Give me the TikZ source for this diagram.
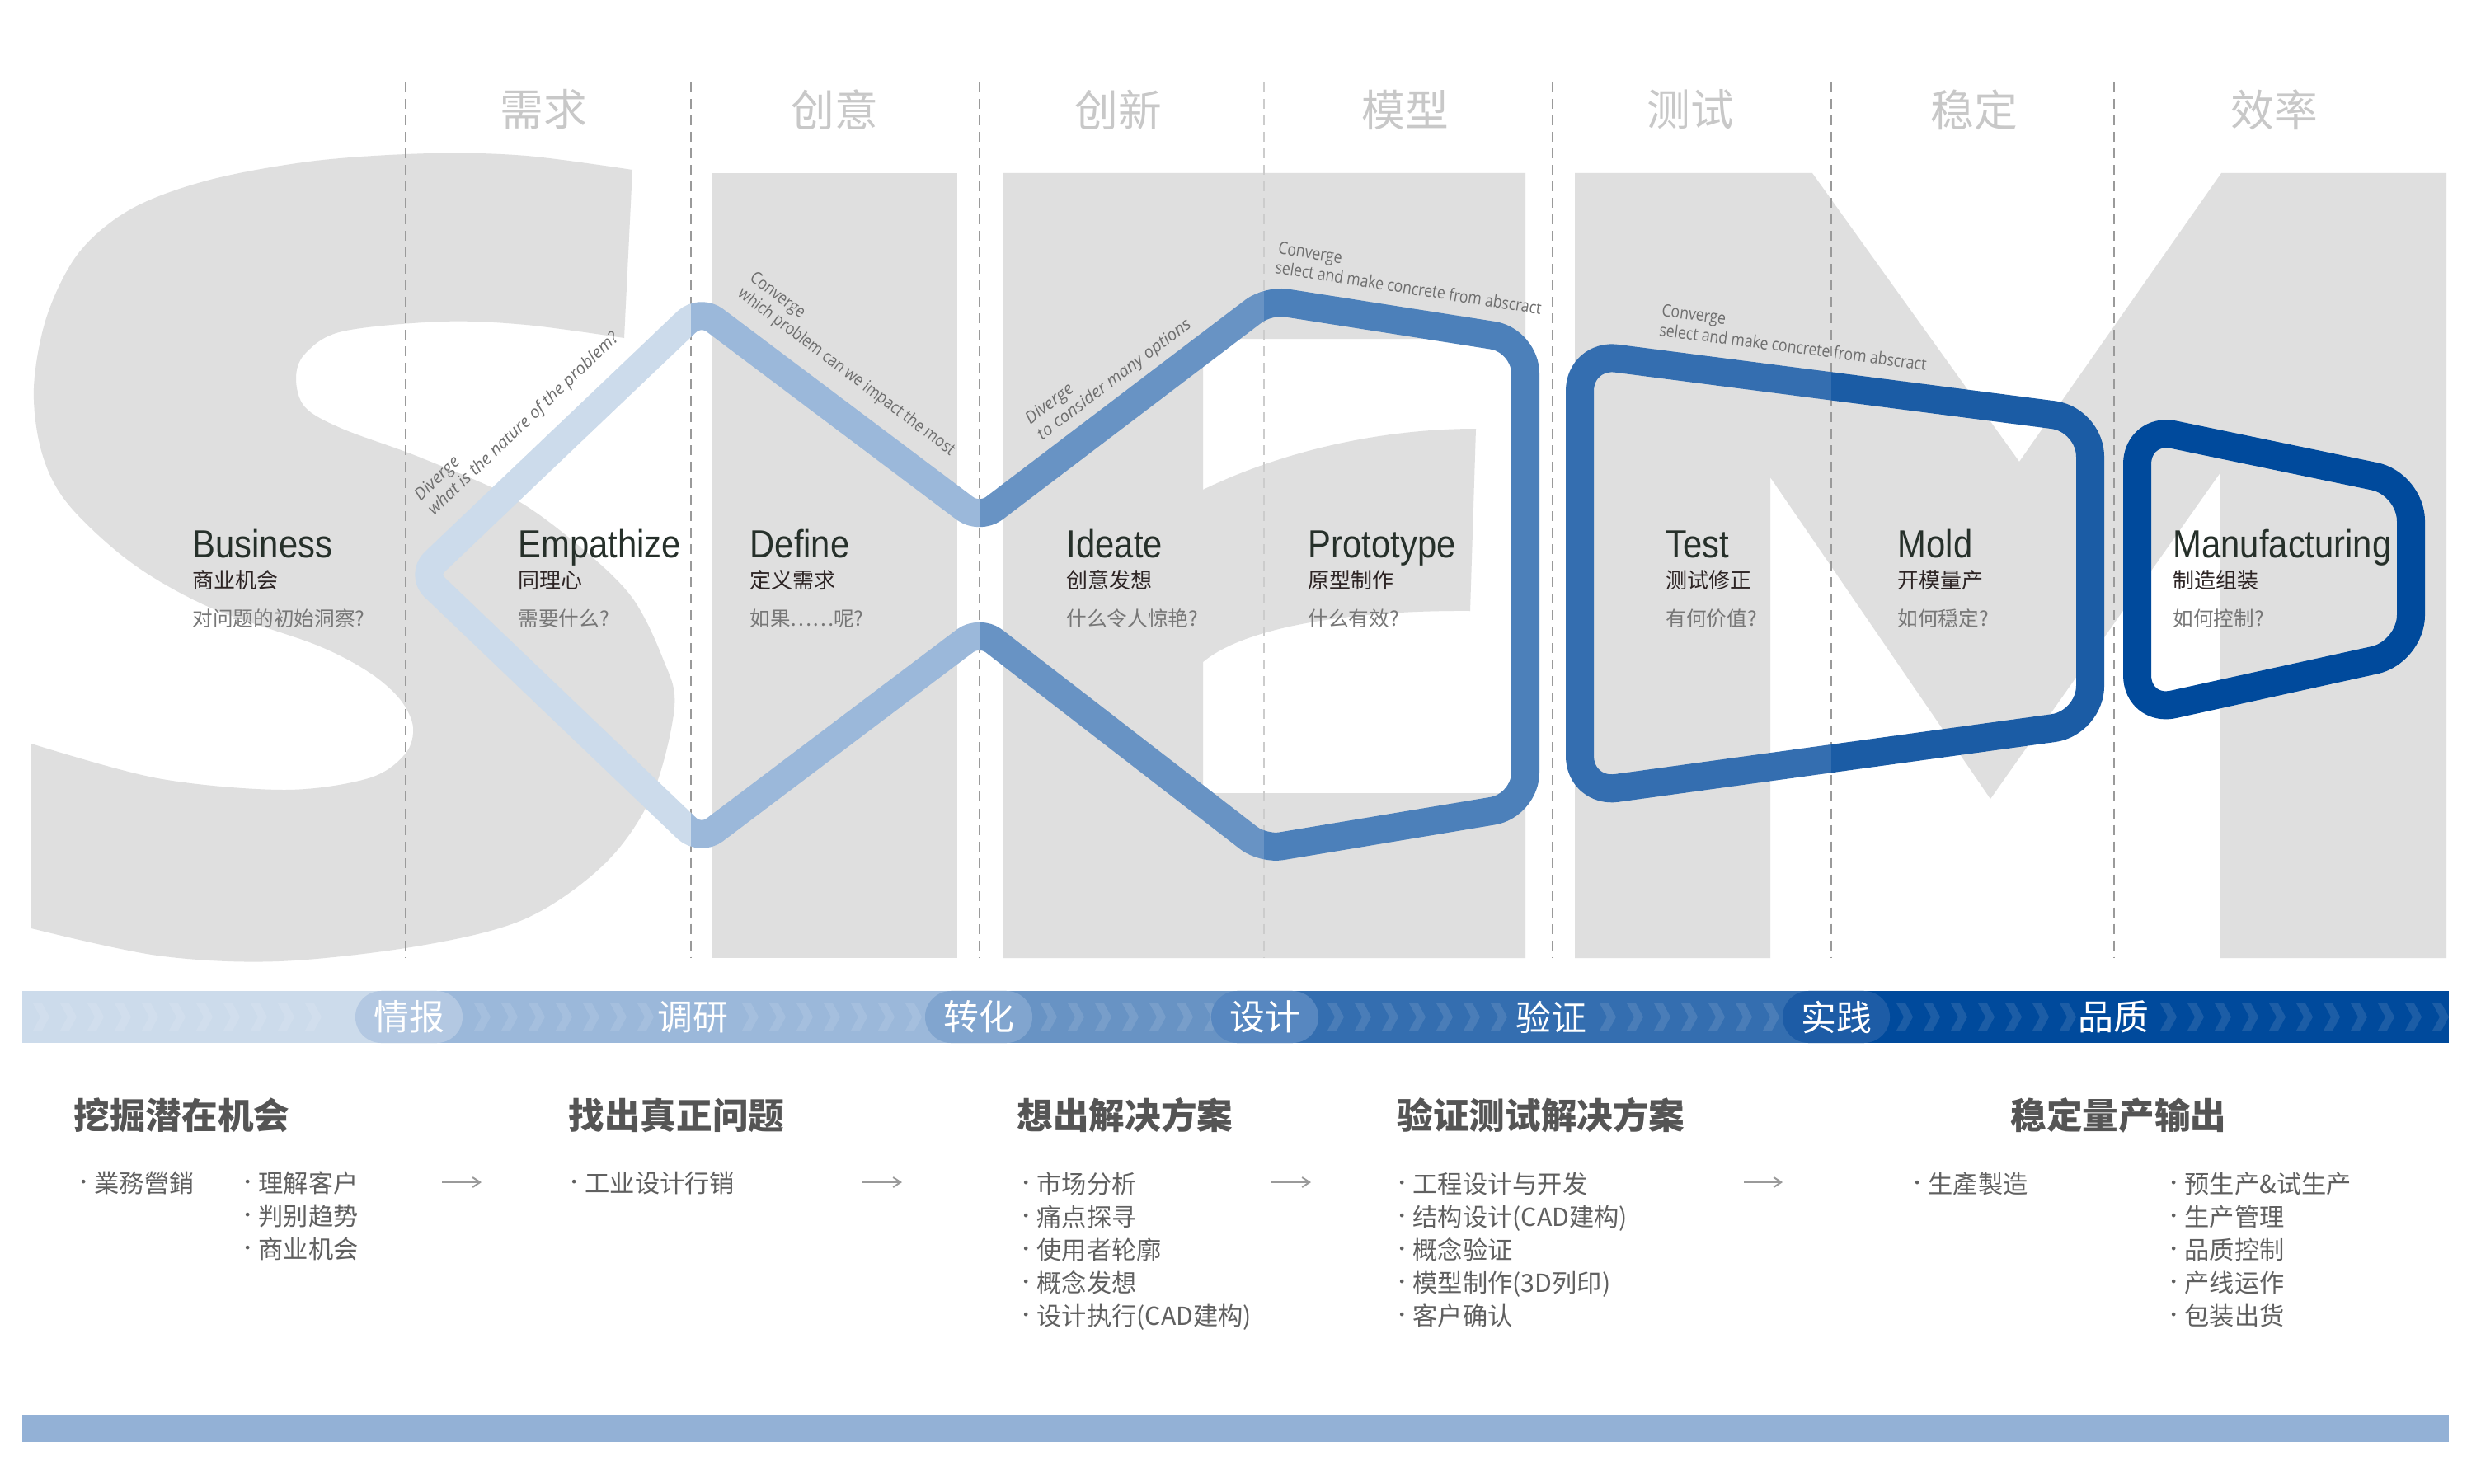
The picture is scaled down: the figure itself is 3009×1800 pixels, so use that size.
\documentclass[tikz,border=0pt]{standalone}
\usepackage{fontspec}
\setmainfont{Liberation Sans}
\newfontfamily\cjk{Noto Sans CJK SC}
\newfontfamily\ttlfont[FakeStretch=0.88]{Liberation Sans}
\newfontfamily\osans{Open Sans}
\newfontfamily\osanscond[FakeStretch=0.85]{Open Sans}
\newfontfamily\dejavu{DejaVu Sans}
\usetikzlibrary{arrows.meta}
\definecolor{letgray}{HTML}{DFDFDF}
\definecolor{dashgray}{HTML}{9A9A9A}
\definecolor{hdrgray}{HTML}{C8C8C8}
\definecolor{ttlcol}{HTML}{26302A}
\definecolor{subcol}{HTML}{2D2424}
\definecolor{qcol}{HTML}{777777}
\definecolor{labgray}{HTML}{6E6E6E}
\definecolor{headcol}{HTML}{555555}
\definecolor{itemcol}{HTML}{606060}
\definecolor{arrcol}{HTML}{9A9A9A}
\definecolor{barcol}{HTML}{93B1D6}
\definecolor{cA}{HTML}{CCDBEB}
\definecolor{cB}{HTML}{9BB8DA}
\definecolor{cC}{HTML}{6893C4}
\definecolor{cD}{HTML}{4C80BA}
\definecolor{cE}{HTML}{346EB0}
\definecolor{cF}{HTML}{1B5CA5}
\definecolor{cG}{HTML}{004A9C}
\definecolor{pA}{HTML}{B3C8E2}
\definecolor{pB}{HTML}{81A5CF}
\definecolor{pC}{HTML}{5787C0}
\definecolor{pD}{HTML}{1D5CA6}
\newcommand\mybul{\makebox[0.18cm][l]{\raisebox{0.065cm}{\dejavu\fontsize{4.5}{5}\selectfont •}}}
\begin{document}
\begin{tikzpicture}[x=0.01cm,y=-0.01cm,
  letter/.style={fill=letgray},
  dashline/.style={draw=dashgray, line width=0.016cm, dash pattern=on 0.12cm off 0.08cm},
  blueline/.style={line width=0.34cm, line join=round},
  hdr/.style={font=\cjk\fontsize{15}{15}\selectfont, text=hdrgray, inner sep=0},
  ttl/.style={font=\ttlfont\fontsize{13.5}{14}\selectfont, text=ttlcol, anchor=base west, inner sep=0},
  phsub/.style={font=\cjk\fontsize{7.4}{8}\selectfont, text=subcol, anchor=base west, inner sep=0},
  qst/.style={font=\cjk\fontsize{7}{8}\selectfont, text=qcol, anchor=base west, inner sep=0},
  divlab/.style={font=\osans\itshape\fontsize{5.8}{6.8}\selectfont, text=labgray, align=left, inner sep=0, anchor=south west},
  conlab/.style={font=\osanscond\fontsize{5.9}{6.8}\selectfont, text=labgray, align=left, inner sep=0, anchor=south west},
  pill/.style={minimum width=1.3cm, minimum height=0.63cm, rounded corners=0.315cm, inner sep=0, font=\cjk\fontsize{12.2}{13}\selectfont, text=white},
  bandtxt/.style={font=\cjk\fontsize{12.2}{13}\selectfont, text=white, inner sep=0},
  bhead/.style={font=\cjk\bfseries\fontsize{12.4}{13}\selectfont, text=headcol, anchor=base west, inner sep=0},
  bitem/.style={font=\cjk\fontsize{8.6}{10}\selectfont, text=itemcol, anchor=base west, inner sep=0},
  arr/.style={draw=arrcol, line width=0.02cm, -{Straight Barb[length=0.09cm,width=0.12cm]}}
]
\useasboundingbox (0,0) rectangle (3009,1800);
\fill[white] (0,0) rectangle (3009,1800);

% ---------- gray letters ----------
\fill[letter] plot[smooth, tension=0.55] coordinates {(767,206) (638,189) (523,186) (383,195) (255,218) (160,253) (96,306) (57,383) (41,471) (51,550) (83,612) (160,683) (255,737) (383,782) (447,815) (485,848) (501,882) (491,915) (447,944) (345,958) (191,944) (38,902)}
  -- plot[smooth, tension=0.55] coordinates {(38,1126) (191,1159) (338,1166) (510,1147) (638,1114) (734,1047) (791,964) (818,857) (804,799) (766,724) (702,662) (622,604) (510,555) (415,520) (370,494) (359,459) (370,429) (415,402) (536,390) (638,394) (757,410)} -- cycle;
\fill[letter] (864,210) rectangle (1161,1162);
\fill[letter] (1217,210) -- (1850,210) -- (1850,411) -- (1459,411) -- (1459,594)
  .. controls (1560,545) and (1680,520) .. (1790,520) -- (1783,741)
  .. controls (1640,740) and (1510,760) .. (1459,803) -- (1459,962) -- (1850,962) -- (1850,1162) -- (1217,1162) -- cycle;
\fill[letter] (1910,210) -- (2198,210) -- (2449,560) -- (2694,210) -- (2967,210) -- (2967,1162) -- (2693,1162) -- (2693,573) -- (2414,969) -- (2147,579) -- (2147,1162) -- (1910,1162) -- cycle;

% ---------- dashed column lines ----------
\foreach \x in {492,838,1188,1883,2221,2564}
  \draw[dashline] (\x,100) -- (\x,1162);
\draw[dashline, draw=letgray!80!gray] (1533,100) -- (1533,1162);

% ---------- headers ----------
\node[hdr] (h1) at (659,133) {需求};
\node[hdr] (h2) at (1012,133) {创意};
\node[hdr] (h3) at (1356,133) {创新};
\node[hdr] (h4) at (1704,133) {模型};
\node[hdr] (h5) at (2050,133) {测试};
\node[hdr] (h6) at (2394,133) {稳定};
\node[hdr] (h7) at (2758,133) {效率};

% ---------- blue paths ----------
\coordinate (L) at (511,697);
\coordinate (T1) at (849,375);
\coordinate (B1) at (849,1020);
\coordinate (W1) at (1188,630);
\coordinate (W2) at (1188,764);
\coordinate (P1) at (1538,364);
\coordinate (P2) at (1850,413);
\coordinate (P3) at (1850,977);
\coordinate (P4) at (1532,1030);
\coordinate (Q1) at (1916,429);
\coordinate (Q2) at (2535,509);
\coordinate (Q3) at (2535,877);
\coordinate (Q4) at (1916,962);
\coordinate (R1) at (2592,518);
\coordinate (R2) at (2924,587);
\coordinate (R3) at (2924,791);
\coordinate (R4) at (2592,864);
\foreach \xa/\xb/\col in {0/838/cA, 838/1188/cB, 1188/1533/cC, 1533/1883/cD, 1883/2221/cE, 2221/2564/cF, 2564/3009/cG}{
  \begin{scope}
    \clip (\xa,0) rectangle (\xb,1800);
    \draw[blueline, draw=\col, rounded corners=0.22cm] (L) -- (T1) -- (W1) -- (P1) [rounded corners=0.4cm] -- (P2) -- (P3) [rounded corners=0.22cm] -- (P4) -- (W2) -- (B1) -- cycle;
    \draw[blueline, draw=\col, rounded corners=0.45cm] (Q1) -- (Q2) -- (Q3) -- (Q4) -- cycle;
    \draw[blueline, draw=\col, rounded corners=0.45cm] (R1) -- (R2) -- (R3) -- (R4) -- cycle;
  \end{scope}
}

% ---------- diagonal labels ----------
\node[divlab, rotate=43.6] (d1) at (530,630) {Diverge\\what is the nature of the problem?};
\node[conlab, rotate=-36.9] (c1) at (890,363) {Converge\\which problem can we impact the most};
\node[divlab, rotate=37.2] (d2) at (1267,539) {Diverge\\to consider many options};
\node[conlab, rotate=-8.9] (c2) at (1545,332) {Converge\\select and make concrete from abscract};
\node[conlab, rotate=-7.4] (c3) at (2011,408) {Converge\\select and make concrete from abscract};

% ---------- phase labels ----------
\foreach \x/\a/\b/\c [count=\i] in {233/Business/商业机会/对问题的初始洞察?, 628/Empathize/同理心/需要什么?, 909/Define/定义需求/如果……呢?, 1293/Ideate/创意发想/什么令人惊艳?, 1586/Prototype/原型制作/什么有效?, 2020/Test/测试修正/有何价值?, 2301/Mold/开模量产/如何穏定?, 2635/Manufacturing/制造组装/如何控制?}{
  \node[ttl] (t\i) at (\x,676) {\a};
  \node[phsub] (s\i) at (\x,713) {\b};
  \node[qst] (q\i) at (\x,759) {\c};
}

% ---------- band ----------
\fill[cA] (27,1202) rectangle (492,1265);
\fill[cB] (492,1202) rectangle (1188,1265);
\fill[cC] (1188,1202) rectangle (1533,1265);
\fill[cE] (1533,1202) rectangle (2221,1265);
\fill[cG] (2221,1202) rectangle (2970,1265);
\foreach \x in {40,73,...,400, 575,608,...,780, 900,933,...,1110, 1262,1295,...,1460, 1610,1643,...,1830, 1940,1973,...,2150, 2300,2333,...,2510, 2620,2653,...,2950}
  \fill[white, opacity=0.11] (\x,1217) -- ++(11,0) -- ++(9,16.5) -- ++(-9,16.5) -- ++(-11,0) -- ++(9,-16.5) -- cycle;
\node[pill, fill=pA] (b1) at (496,1233.5) {情报};
\node[bandtxt] (b2) at (840,1233.5) {调研};
\node[pill, fill=pB] (b3) at (1187,1233.5) {转化};
\node[pill, fill=pC] (b4) at (1534,1233.5) {设计};
\node[bandtxt] (b5) at (1881,1233.5) {验证};
\node[pill, fill=pD] (b6) at (2227,1233.5) {实践};
\node[bandtxt] (b7) at (2563,1233.5) {品质};

% ---------- bottom columns ----------
\node[bhead] (k1) at (89,1369) {挖掘潜在机会};
\node[bhead] (k2) at (689,1369) {找出真正问题};
\node[bhead] (k3) at (1233,1369) {想出解决方案};
\node[bhead] (k4) at (1694,1369) {验证测试解决方案};
\node[bhead] (k5) at (2438,1369) {稳定量产输出};

\node[bitem] (ia1) at (96,1446) {\mybul 業務營銷};
\foreach \t [count=\i] in {理解客户,判别趋势,商业机会}
  \node[bitem] (ib\i) at (295,{1406+40*\i}) {\mybul\t};
\node[bitem] (ic1) at (691,1446) {\mybul 工业设计行销};
\foreach \t [count=\i] in {市场分析,痛点探寻,使用者轮廓,概念发想,设计执行(CAD建构)}
  \node[bitem] (id\i) at (1239,{1407+40*\i}) {\mybul\t};
\foreach \t [count=\i] in {工程设计与开发,结构设计(CAD建构),概念验证,模型制作(3D列印),客户确认}
  \node[bitem] (ie\i) at (1695,{1407+40*\i}) {\mybul\t};
\node[bitem] (if1) at (2320,1447) {\mybul 生產製造};
\foreach \t [count=\i] in {预生产\&试生产,生产管理,品质控制,产线运作,包装出货}
  \node[bitem] (ig\i) at (2631,{1407+40*\i}) {\mybul\t};

\coordinate (a1s) at (536,1434); \coordinate (a1e) at (584,1434);
\coordinate (a2s) at (1046,1434); \coordinate (a2e) at (1094,1434);
\coordinate (a3s) at (1542,1434); \coordinate (a3e) at (1590,1434);
\coordinate (a4s) at (2115,1434); \coordinate (a4e) at (2162,1434);
\draw[arr] (a1s) -- (a1e);
\draw[arr] (a2s) -- (a2e);
\draw[arr] (a3s) -- (a3e);
\draw[arr] (a4s) -- (a4e);

\fill[barcol] (27,1716) rectangle (2970,1749);
\end{tikzpicture}
\end{document}
